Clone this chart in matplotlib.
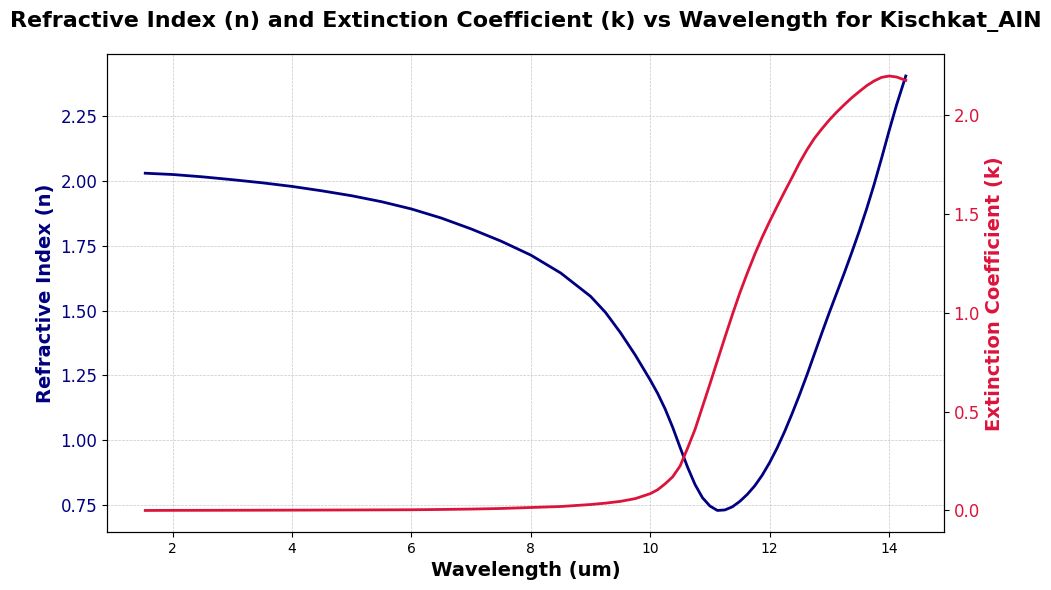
import matplotlib
matplotlib.use("Agg")
import matplotlib.pyplot as plt

# values
wavelength = [1.54, 2.0, 2.5, 3.0, 3.5, 4.0, 4.5, 5.0, 5.5, 6.0, 6.5, 7.0, 7.5, 8.0, 8.5,
              9.0, 9.25, 9.5, 9.75, 10.0, 10.125, 10.25, 10.375, 10.5, 10.625, 10.75,
              10.875, 11.0, 11.125, 11.25, 11.375, 11.5, 11.625, 11.75, 11.875, 12.0,
              12.125, 12.25, 12.375, 12.5, 12.625, 12.75, 12.875, 13.0, 13.125, 13.25,
              13.375, 13.5, 13.625, 13.75, 13.875, 14.0, 14.125, 14.28]

n_values = [2.030, 2.025, 2.016, 2.005, 1.993, 1.979, 1.962, 1.943, 1.920, 1.892, 1.857,
            1.815, 1.768, 1.714, 1.645, 1.555, 1.493, 1.415, 1.328, 1.232, 1.180, 1.120,
            1.050, 0.972, 0.896, 0.829, 0.778, 0.746, 0.729, 0.731, 0.743, 0.764, 0.791,
            0.824, 0.865, 0.914, 0.970, 1.033, 1.102, 1.175, 1.252, 1.333, 1.414, 1.493,
            1.569, 1.645, 1.724, 1.806, 1.893, 1.987, 2.088, 2.193, 2.293, 2.405]

k_values = [0.0, 0.0005, 0.0007, 0.001, 0.0013, 0.0016, 0.002, 0.0025, 0.003, 0.0035,
            0.005, 0.007, 0.010, 0.015, 0.020, 0.030, 0.037, 0.046, 0.060, 0.085, 0.105,
            0.135, 0.170, 0.225, 0.315, 0.410, 0.525, 0.640, 0.758, 0.875, 0.990, 1.100,
            1.200, 1.295, 1.382, 1.462, 1.538, 1.612, 1.684, 1.758, 1.824, 1.882, 1.930,
            1.975, 2.015, 2.052, 2.087, 2.118, 2.148, 2.172, 2.190, 2.197, 2.192, 2.175]

fig, ax1 = plt.subplots(figsize=(10.51, 5.9), dpi=100)
fig.subplots_adjust(left=0.102, right=0.898, top=0.908, bottom=0.098)

# n on the left axis
ax1.plot(wavelength, n_values, color="navy", linewidth=2)
ax1.set_xlabel("Wavelength (um)", fontsize=14, fontweight="bold")
ax1.set_ylabel("Refractive Index (n)", color="navy", fontsize=14, fontweight="bold")
ax1.tick_params(axis="y", labelcolor="navy", labelsize=12)
ax1.grid(True, linestyle="--", linewidth=0.5, alpha=0.7)

# k on a twin axis
ax2 = ax1.twinx()
ax2.plot(wavelength, k_values, color="crimson", linewidth=2)
ax2.set_ylabel("Extinction Coefficient (k)", color="crimson", fontsize=14, fontweight="bold")
ax2.tick_params(axis="y", labelcolor="crimson", labelsize=12)

ax1.set_title("Refractive Index (n) and Extinction Coefficient (k) vs Wavelength for Kischkat_AlN",
              fontsize=16, fontweight="bold", pad=20)

plt.savefig("out.png")
